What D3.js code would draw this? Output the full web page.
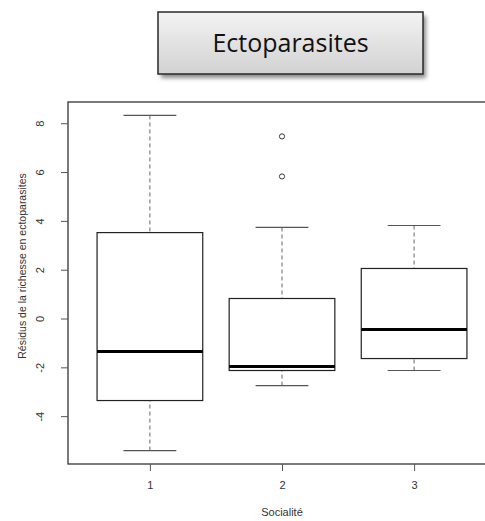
<!DOCTYPE html>
<html>
<head>
<meta charset="utf-8">
<script src="https://cdn.jsdelivr.net/npm/d3@7"></script>
<style>
  html, body { margin: 0; padding: 0; background: #fff; }
  svg { display: block; }
</style>
</head>
<body>
<script>
// Box-plot summary statistics per sociality level
const groups = ["1", "2", "3"];
const whiskerLow = [-5.41, -2.75, -2.13];
const q1 = [-3.36, -2.13, -1.64];
const median = [-1.35, -1.97, -0.45];
const q3 = [3.52, 0.82, 2.05];
const whiskerHigh = [8.32, 3.73, 3.81];
const outliers = [[], [5.82, 7.46], []];
const yTicks = [-4, -2, 0, 2, 4, 6, 8];

const title = "Ectoparasites";
const xLabel = "Socialité";
const yLabel = "Résidus de la richesse en ectoparasites";

const W = 485, H = 521;
const svg = d3.select("body").append("svg").attr("width", W).attr("height", H);

// Title banner with gradient and shadow
const defs = svg.append("defs");
const grad = defs.append("linearGradient").attr("id", "bannerGrad")
  .attr("x1", 0).attr("y1", 0).attr("x2", 0).attr("y2", 1);
grad.append("stop").attr("offset", "0%").attr("stop-color", "#f3f3f3");
grad.append("stop").attr("offset", "100%").attr("stop-color", "#d2d2d2");
const blur = defs.append("filter").attr("id", "shadow")
  .attr("x", "-10%").attr("y", "-10%").attr("width", "130%").attr("height", "140%");
blur.append("feGaussianBlur").attr("stdDeviation", 2);

const banner = { x: 158, y: 12, w: 265, h: 62 };
svg.append("rect")
  .attr("x", banner.x + 3).attr("y", banner.y + 4)
  .attr("width", banner.w).attr("height", banner.h)
  .attr("fill", "#8a8a8a").attr("filter", "url(#shadow)");
svg.append("rect")
  .attr("x", banner.x).attr("y", banner.y)
  .attr("width", banner.w).attr("height", banner.h)
  .attr("fill", "url(#bannerGrad)").attr("stroke", "#2a2a2a").attr("stroke-width", 1.5);
svg.append("text")
  .attr("x", banner.x + banner.w / 2).attr("y", banner.y + banner.h / 2 + 9)
  .attr("text-anchor", "middle")
  .attr("font-family", "'Open Sans', Lato, sans-serif")
  .attr("font-size", 25).attr("fill", "#111")
  .text(title);

// Plot region
const plot = { left: 68, top: 102, right: 496, bottom: 464 };
const x = d3.scaleLinear().domain([0.38, 3.62]).range([plot.left, plot.right]);
const y = d3.scaleLinear().domain([-5.96, 8.87]).range([plot.bottom, plot.top]);

const boxWex = 0.8;
const halfBox = (x(1 + boxWex / 2) - x(1 - boxWex / 2)) / 2;
const halfCap = halfBox / 2;

const g = svg.append("g");
groups.forEach((name, i) => {
  const cx = x(i + 1);
  const gg = g.append("g");
  // whiskers
  [[whiskerHigh[i], q3[i]], [whiskerLow[i], q1[i]]].forEach(([a, b]) => {
    gg.append("line")
      .attr("x1", cx).attr("x2", cx).attr("y1", y(a)).attr("y2", y(b))
      .attr("stroke", "#666").attr("stroke-width", 1).attr("stroke-dasharray", "4,3");
    gg.append("line")
      .attr("x1", cx - halfCap).attr("x2", cx + halfCap).attr("y1", y(a)).attr("y2", y(a))
      .attr("stroke", "#555").attr("stroke-width", 1.2);
  });
  // box
  gg.append("rect")
    .attr("x", cx - halfBox).attr("y", y(q3[i]))
    .attr("width", 2 * halfBox).attr("height", y(q1[i]) - y(q3[i]))
    .attr("fill", "none").attr("stroke", "#222").attr("stroke-width", 1.2);
  // median
  gg.append("line")
    .attr("x1", cx - halfBox).attr("x2", cx + halfBox)
    .attr("y1", y(median[i])).attr("y2", y(median[i]))
    .attr("stroke", "#000").attr("stroke-width", 3);
  // outliers
  outliers[i].forEach(v => {
    gg.append("circle").attr("cx", cx).attr("cy", y(v)).attr("r", 2.6)
      .attr("fill", "none").attr("stroke", "#222").attr("stroke-width", 0.9);
  });
});

// Frame
svg.append("rect")
  .attr("x", plot.left).attr("y", plot.top)
  .attr("width", plot.right - plot.left).attr("height", plot.bottom - plot.top)
  .attr("fill", "none").attr("stroke", "#333").attr("stroke-width", 1.3);

const font = "'Liberation Sans', Arial, sans-serif";

// Y axis (plain hyphen for negative numbers)
const yAxis = svg.append("g").attr("transform", `translate(${plot.left},0)`)
  .call(d3.axisLeft(y).tickValues(yTicks).tickSize(7).tickPadding(0)
    .tickFormat(d => String(d)));
yAxis.select(".domain").remove();
yAxis.selectAll(".tick line").attr("stroke", "#555");
yAxis.selectAll(".tick text")
  .attr("font-family", font).attr("font-size", 11).attr("fill", "#333")
  .attr("text-anchor", "middle").attr("dy", 0)
  .attr("x", 0).attr("y", 0)
  .attr("transform", "translate(-28,0) rotate(-90) translate(0,4)");

// X axis
const xAxis = svg.append("g").attr("transform", `translate(0,${plot.bottom})`)
  .call(d3.axisBottom(x).tickValues([1, 2, 3]).tickSize(7).tickPadding(10)
    .tickFormat((d, i) => groups[i]));
xAxis.select(".domain").remove();
xAxis.selectAll(".tick line").attr("stroke", "#555");
xAxis.selectAll(".tick text")
  .attr("font-family", font).attr("font-size", 11).attr("fill", "#333");

// Axis titles
svg.append("text")
  .attr("x", x(2)).attr("y", 516)
  .attr("text-anchor", "middle")
  .attr("font-family", font).attr("font-size", 11).attr("fill", "#333")
  .text(xLabel);
svg.append("text")
  .attr("transform", `translate(26,${(plot.top + plot.bottom) / 2 - 17}) rotate(-90)`)
  .attr("text-anchor", "middle")
  .attr("font-family", font).attr("font-size", 10.5).attr("fill", "#333")
  .text(yLabel);
</script>
</body>
</html>
